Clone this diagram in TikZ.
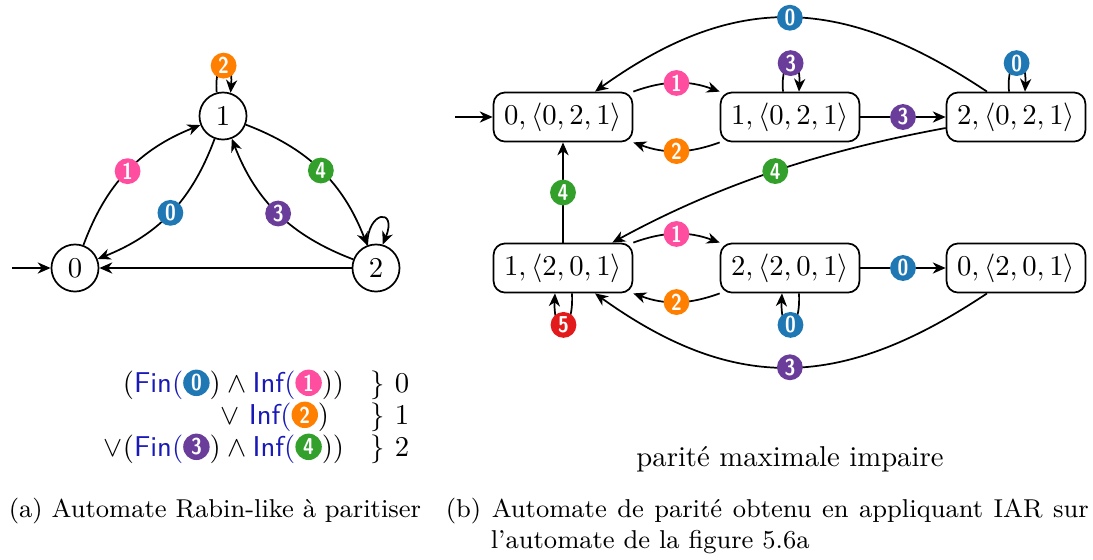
\documentclass[tikz,border=0pt]{standalone}
\usepackage{fontspec}
\usepackage{graphicx}
\usepackage{pict2e}
\usetikzlibrary{arrows.meta}
\definecolor{cblue}{HTML}{1F78B4}
\definecolor{cpink}{HTML}{FF4DA0}
\definecolor{corange}{HTML}{FF7F00}
\definecolor{cpurple}{HTML}{6A3D9A}
\definecolor{cgreen}{HTML}{33A02C}
\definecolor{cred}{HTML}{E31A1C}
\definecolor{fblue}{rgb}{0.1,0.1,0.72}
\newcommand\accdigit[1]{\scalebox{0.85}[1]{\sffamily\bfseries\fontsize{8}{8}\selectfont #1}}
\newcommand\accm[2]{\begingroup\setlength{\unitlength}{1pt}\begin{picture}(9.2,7.5)\put(4.6,3.2){\color{#1}\circle*{9.2}}\put(4.6,3.2){\makebox(0,0){\color{white}\accdigit{#2}}}\end{picture}\endgroup}
\tikzset{
  >={Stealth[length=4.5pt,width=3.9pt,inset=1.4pt]},
  every path/.style={line width=0.6pt},
  qstate/.style={circle,draw,minimum size=16.4pt,inner sep=0pt},
  rstate/.style={draw,rounded corners=4pt,minimum width=48.4pt,minimum height=17.1pt,inner sep=2pt},
  acc/.style={circle,fill=#1,text=white,inner sep=0pt,minimum size=9pt},
  txt/.style={inner sep=0pt}
}
\begin{document}
\begin{tikzpicture}[x=0.34843pt,y=-0.34843pt]
\useasboundingbox (0,0) rectangle (1093,559);
% left automaton
\node[qstate] (q0) at (75,268) {$0$};
\node[qstate] (q1) at (223,116) {$1$};
\node[qstate] (q2) at (376,268) {$2$};
\coordinate (i0) at (12,268);
\draw[->] (i0) -- (q0);
\draw[->] (q0) to[bend left=24] node[acc=cpink] (la1) {\accdigit{1}} (q1);
\draw[->] (q1) to[bend left=24] node[acc=cblue] (la0) {\accdigit{0}} (q0);
\draw[->] (q1) to[bend left=24] node[acc=cgreen] (la4) {\accdigit{4}} (q2);
\draw[->] (q2) to[bend left=24] node[acc=cpurple] (la3) {\accdigit{3}} (q1);
\draw[->] (q2) -- (q0);
\draw[->] (q1.105) .. controls +(-3,-36) and +(3,-36) .. (q1.72) node[pos=.5,acc=corange] (la2) {\accdigit{2}};
\draw[->] (q2.111) .. controls +(0,-35) and +(15,-37) .. (q2.74);
% formula
\node[txt,anchor=base east] (f1) at (345,392) {$(\textcolor{fblue}{\mathsf{Fin}(}\accm{cblue}{0})\land\textcolor{fblue}{\mathsf{Inf}(}\accm{cpink}{1}))$};
\node[txt,anchor=base east] (f2) at (330,424) {$\lor\ \textcolor{fblue}{\mathsf{Inf}(}\accm{corange}{2})$};
\node[txt,anchor=base east] (f3) at (345,456) {$\lor(\textcolor{fblue}{\mathsf{Fin}(}\accm{cpurple}{3})\land\textcolor{fblue}{\mathsf{Inf}(}\accm{cgreen}{4}))$};
\node[txt,anchor=base west] (g1) at (370,392) {$\}$~0};
\node[txt,anchor=base west] (g2) at (370,424) {$\}$~1};
\node[txt,anchor=base west] (g3) at (370,456) {$\}$~2};
% right automaton
\node[rstate] (A) at (563,117) {$0,\langle 0,2,1\rangle$};
\node[rstate] (B) at (790,117) {$1,\langle 0,2,1\rangle$};
\node[rstate] (C) at (1016,117) {$2,\langle 0,2,1\rangle$};
\node[rstate] (D) at (563,268) {$1,\langle 2,0,1\rangle$};
\node[rstate] (E) at (790,268) {$2,\langle 2,0,1\rangle$};
\node[rstate] (F) at (1016,268) {$0,\langle 2,0,1\rangle$};
\coordinate (iA) at (455,117);
\draw[->] (iA) -- (A);
\draw[->] (A.north east) to[bend left=20] node[acc=cpink] (lb1) {\accdigit{1}} (B.north west);
\draw[->] (B.south west) to[bend left=20] node[acc=corange] (lb2) {\accdigit{2}} (A.south east);
\draw[->] ([shift={(-7,0)}]B.north) .. controls +(-3,-38) and +(2,-38) .. ([shift={(9,0)}]B.north) node[pos=.5,acc=cpurple] (lb3) {\accdigit{3}};
\draw[->] ([shift={(-7,0)}]C.north) .. controls +(-3,-38) and +(2,-38) .. ([shift={(9,0)}]C.north) node[pos=.5,acc=cblue] (lb0) {\accdigit{0}};
\draw[->] (B) -- node[acc=cpurple] (lb3b) {\accdigit{3}} (C);
\draw[->] ([shift={(-29,0)}]C.north) .. controls +(-144,-96) and +(141,-101) .. ([shift={(32,0)}]A.north) node[pos=.5,acc=cblue] (lb0b) {\accdigit{0}};
\draw[->] ([shift={(0,11)}]C.west) .. controls +(-120,22) and +(110,-60) .. ([shift={(-21,0)}]D.north east) node[pos=.5,acc=cgreen] (lb4) {\accdigit{4}};
\draw[->] (D) -- node[acc=cgreen] (lb4b) {\accdigit{4}} (A);
\draw[->] (D.north east) to[bend left=20] node[acc=cpink] (lc1) {\accdigit{1}} (E.north west);
\draw[->] (E.south west) to[bend left=20] node[acc=corange] (lc2) {\accdigit{2}} (D.south east);
\draw[->] ([shift={(9,0)}]D.south) .. controls +(2,42) and +(-2,42) .. ([shift={(-8,0)}]D.south) node[pos=.5,acc=cred] (lc5) {\accdigit{5}};
\draw[->] ([shift={(9,0)}]E.south) .. controls +(2,42) and +(-2,42) .. ([shift={(-8,0)}]E.south) node[pos=.5,acc=cblue] (lc0) {\accdigit{0}};
\draw[->] (E) -- node[acc=cblue] (lc0b) {\accdigit{0}} (F);
\draw[->] ([shift={(-29,0)}]F.south) .. controls +(-144,96) and +(141,101) .. ([shift={(32,0)}]D.south) node[pos=.5,acc=cpurple] (lc3) {\accdigit{3}};
% texts
\node[txt,anchor=base] (par) at (790,466) {parité maximale impaire};
\node[txt,anchor=base west,font=\small] (capa) at (8,517) {(a) Automate Rabin-like à paritiser};
\node[txt,anchor=base west,font=\small] (capb1) at (445,517) {\hbox to 224pt{(b) Automate de parité obtenu en appliquant IAR sur}};
\node[txt,anchor=base west,font=\small] (capb2) at (490,548) {l'automate de la figure 5.6a};
\end{tikzpicture}
\end{document}
